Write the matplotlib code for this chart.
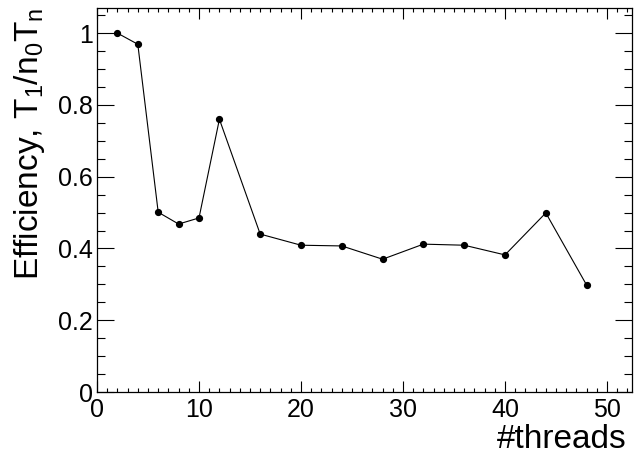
import matplotlib
matplotlib.use('Agg')
import matplotlib.pyplot as plt
from matplotlib.ticker import MultipleLocator

plt.rcParams['font.family'] = ['Liberation Sans', 'DejaVu Sans']
plt.rcParams['mathtext.fontset'] = 'custom'
plt.rcParams['mathtext.rm'] = 'Liberation Sans'
plt.rcParams['mathtext.it'] = 'Liberation Sans'

threads = [2, 4, 6, 8, 10, 12, 16, 20, 24, 28, 32, 36, 40, 44, 48]
efficiency = [1.0, 0.969, 0.501, 0.468, 0.485, 0.760, 0.440, 0.409, 0.407,
              0.370, 0.412, 0.409, 0.382, 0.499, 0.298]

fig = plt.figure(figsize=(6.35, 4.55), dpi=100)
ax = fig.add_axes([97 / 635, 1 - 392 / 455, (632 - 97) / 635, (392 - 8) / 455])

ax.plot(threads, efficiency, color='black', linewidth=0.8,
        marker='o', markersize=4.2)

ax.set_xlim(0, 52.45)
ax.set_ylim(0, 1.07)

ax.xaxis.set_major_locator(MultipleLocator(10))
ax.xaxis.set_minor_locator(MultipleLocator(1))
ax.yaxis.set_major_locator(MultipleLocator(0.2))
ax.yaxis.set_minor_locator(MultipleLocator(0.05))
ax.yaxis.set_major_formatter(plt.FuncFormatter(lambda v, p: '%g' % round(v, 2)))

ax.tick_params(axis='x', which='major', direction='in', length=8, width=0.8,
               top=True, labelsize=18, pad=4)
ax.tick_params(axis='x', which='minor', direction='in', length=3, width=0.8, top=True)
ax.tick_params(axis='y', which='major', direction='in', length=12, width=0.8,
               right=True, labelsize=18, pad=3)
ax.tick_params(axis='y', which='minor', direction='in', length=6, width=0.8, right=True)

for s in ax.spines.values():
    s.set_linewidth(0.9)

ax.set_xlabel('#threads', fontsize=24, ha='right', va='top')
ax.xaxis.set_label_coords((627 - 97) / 535, -0.083)
ax.set_ylabel(r'Efficiency, T$_1$/n$_0$T$_n$', fontsize=24, loc='top', labelpad=8)

fig.savefig('out.png', dpi=100)
